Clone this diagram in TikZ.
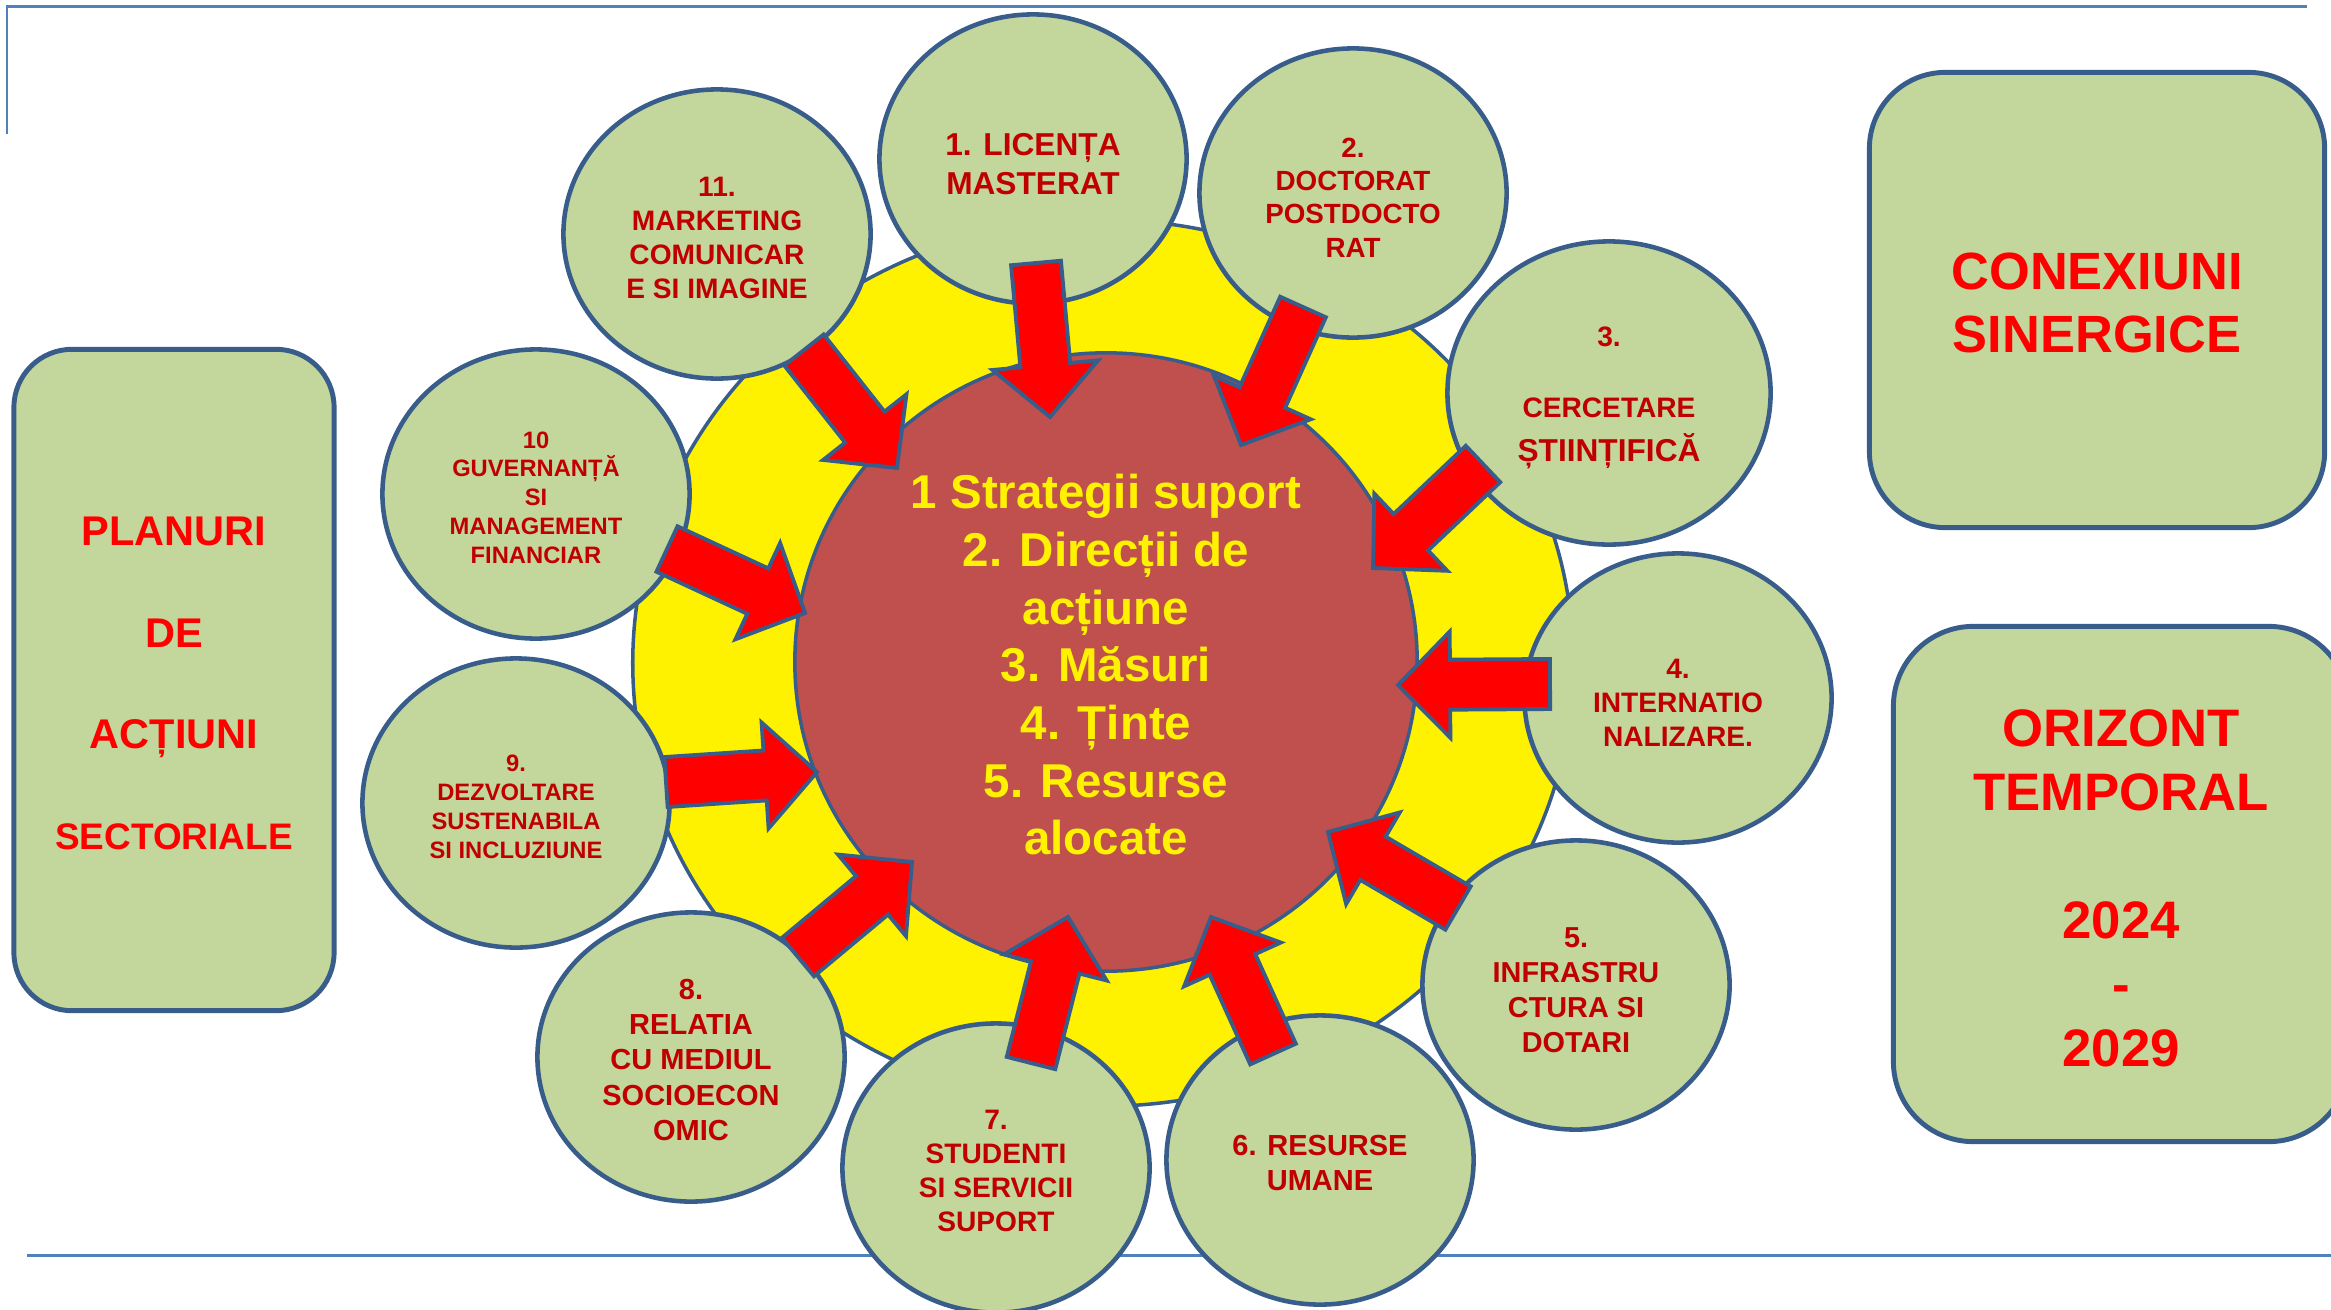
\documentclass[tikz,border=0pt]{standalone}
\usepackage{fontspec}
\setmainfont{Liberation Sans}
\usetikzlibrary{calc,shapes.geometric}
\definecolor{leaf}{HTML}{C3D69B}
\definecolor{rim}{HTML}{385D8A}
\definecolor{brick}{HTML}{C0504D}
\definecolor{wine}{HTML}{C00000}
\definecolor{rulecol}{HTML}{4F81BD}
\newcommand{\sizebf}[2]{\fontsize{#1}{#2}\selectfont\bfseries}
\newcommand{\lift}[1]{\rule{0pt}{#1em}}
\newcommand{\blockarrow}[2]{%
  \coordinate (ba) at ($(#2)!0.52cm!(#1)$);
  \draw[pointer] ($(#1)!0.25cm!90:(#2)$) -- ($(ba)!0.25cm!90:(#2)$) -- ($(ba)!0.53cm!90:(#2)$) -- (#2)
    -- ($(ba)!0.53cm!-90:(#2)$) -- ($(ba)!0.25cm!-90:(#2)$) -- ($(#1)!0.25cm!-90:(#2)$) -- cycle;}

\begin{document}
\begin{tikzpicture}[x=0.01cm, y=-0.01cm,
  topic/.style={ellipse, draw=rim, line width=1.3pt, fill=leaf, text=wine, align=center, inner sep=0pt,
    minimum width=3.07cm, minimum height=2.89cm, font=\sizebf{8}{9.7}},
  core/.style={ellipse, draw=rim, line width=1pt, fill=brick, text=yellow, align=center, inner sep=0pt,
    minimum width=6.22cm, minimum height=6.18cm, font=\sizebf{13.5}{16.4}},
  halo/.style={ellipse, draw=rim, line width=1pt, fill=yellow, minimum width=9.40cm, minimum height=8.86cm},
  panel/.style={rectangle, draw=rim, line width=1.4pt, fill=leaf, text=red, align=center, inner sep=0pt},
  pointer/.style={draw=rim, line width=1.1pt, fill=red},
  frame/.style={draw=rulecol, line width=0.85pt}]
\useasboundingbox (0,0) rectangle (2331,1309);
\draw[frame] (7,134) -- (7,6.5) -- (2307,6.5);
\draw[frame] (27,1255.5) -- (2331,1255.5);

\node[halo] (halo) at (1103,663) {};

\node[topic, font=\sizebf{9}{11.1}] (e1) at (1033,159) {\lift{1.0}1. LICENȚA\\MASTERAT};
\node[topic, font=\sizebf{7.9}{9.4}] (e2) at (1353,193) {\lift{1.04}2.\\DOCTORAT\\POSTDOCTO\\RAT};
\node[topic, minimum width=3.23cm, minimum height=3.03cm, font=\sizebf{8}{12.5}] (e3) at (1609,393)
  {\lift{1.04}3.\\[7.7pt]CERCETARE\\{\sizebf{9}{12.5}ȘTIINȚIFICĂ}};
\node[topic] (e4) at (1678,698) {\lift{1.04}4.\\INTERNATIO\\NALIZARE.};
\node[topic, font=\sizebf{8.2}{10}] (e5) at (1576,985) {\lift{1.04}5.\\INFRASTRU\\CTURA SI\\DOTARI};
\node[topic, font=\sizebf{8.25}{10}] (e6) at (1320,1160) {\lift{0.9}6. RESURSE\\UMANE};
\node[topic, font=\sizebf{8}{9.6}] (e7) at (996,1168) {\lift{0.9}7.\\STUDENTI\\SI SERVICII\\SUPORT};
\node[topic, font=\sizebf{8.25}{10}] (e8) at (691,1057) {\lift{0.9}8.\\RELATIA\\CU MEDIUL\\SOCIOECON\\OMIC};
\node[topic, font=\sizebf{6.75}{8.25}] (e9) at (516,803) {\lift{1.0}9.\\DEZVOLTARE\\SUSTENABILA\\SI INCLUZIUNE};
\node[topic, font=\sizebf{6.75}{8.2}] (e10) at (536,494) {\lift{1.0}10\\GUVERNANȚĂ\\SI\\MANAGEMENT\\FINANCIAR};
\node[topic] (e11) at (717,234) {\lift{0.95}11.\\MARKETING\\COMUNICAR\\E SI IMAGINE};

\node[core] (core) at (1106,662)
  {\lift{0.85}1 Strategii suport\\2. Direcții de\\acțiune\\3. Măsuri\\4. Ținte\\5. Resurse\\alocate};

\foreach \i/\tx/\ty/\hx/\hy in {1/1036/263/1050/417, 2/1303/307/1241/445, 3/1483/464/1373/568,
    4/1550/684/1398/685, 5/1458/908/1328/832, 6/1273/1054/1211/917, 7/1031/1063/1068/917,
    8/798/957/912/862, 9/666/782/817/772, 10/667/549/805/613, 11/804/350/897/468}{
  \coordinate (t\i) at (\tx,\ty);
  \coordinate (h\i) at (\hx,\hy);
  \blockarrow{t\i}{h\i}
}

\node[panel, minimum width=3.2cm, minimum height=6.61cm, rounded corners=0.58cm, font=\sizebf{11.8}{28.8}] (plan) at (174,680)
  {\lift{0.86}PLANURI\\DE\\ACȚIUNI\\{\sizebf{10.5}{28.8}SECTORIALE}};
\node[panel, minimum width=4.55cm, minimum height=4.55cm, rounded corners=0.76cm, font=\sizebf{14.9}{18}] (synergy) at (2097,300)
  {\lift{0.8}CONEXIUNI\\SINERGICE};
\node[panel, minimum width=4.55cm, minimum height=5.15cm, rounded corners=0.8cm, font=\sizebf{15}{18.2}] (horizon) at (2121,884)
  {\lift{0.86}ORIZONT\\TEMPORAL\\[18.1pt]2024\\-\\2029};
\end{tikzpicture}
\end{document}
